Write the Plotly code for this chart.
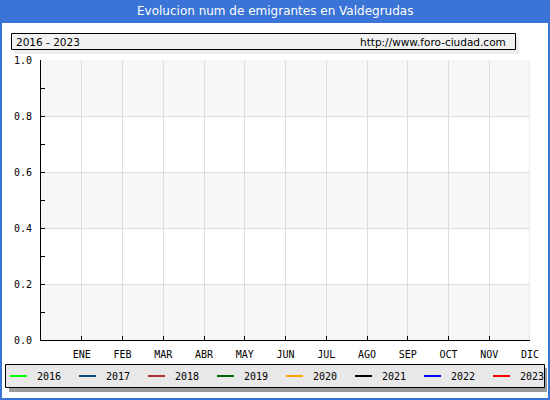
import plotly.graph_objects as go

# Data (no emigrants recorded in any month, every series is empty)
months = ["ENE", "FEB", "MAR", "ABR", "MAY", "JUN", "JUL", "AGO", "SEP", "OCT", "NOV", "DIC"]
years = ["2016", "2017", "2018", "2019", "2020", "2021", "2022", "2023"]
colors = ["#00ff00", "#0b4a78", "#b03030", "#006400", "#ffa500", "#000000", "#0000ff", "#ff0000"]
emigrants = {y: [] for y in years}
y_ticks = [0.0, 0.2, 0.4, 0.6, 0.8, 1.0]

W, H = 550, 400
L, R, T, B = 41, 20, 60, 60
PW, PH = W - L - R, H - T - B
BLUE = "#3a74d6"
MONO = "DejaVu Sans Mono"


def px(x):
    return (x - L) / PW


def py(y):
    return (H - B - y) / PH


fig = go.Figure()

for yr, col in zip(years, colors):
    vals = emigrants[yr]
    fig.add_trace(go.Scatter(x=list(range(1, len(vals) + 1)), y=vals, mode="lines",
                             line=dict(color=col, width=2), name=yr, showlegend=False))

shapes = []
# alternating bands
for i in range(len(y_ticks) - 1):
    if i % 2 == 0:
        shapes.append(dict(type="rect", xref="x", yref="y", x0=0, x1=12,
                           y0=y_ticks[i], y1=y_ticks[i + 1], fillcolor="#f7f7f7",
                           line=dict(width=0), layer="below"))
shapes.append(dict(type="line", xref="x", yref="y", x0=12, x1=12, y0=0, y1=1,
                   line=dict(color="#dddddd", width=1), layer="below"))

# frame and title bar
shapes.append(dict(type="rect", xref="paper", yref="paper", x0=px(0), x1=px(W), y0=py(0), y1=py(22),
                   fillcolor=BLUE, line=dict(width=0)))
shapes.append(dict(type="rect", xref="paper", yref="paper", x0=px(1), x1=px(549), y0=py(22), y1=py(399),
                   fillcolor="rgba(0,0,0,0)", line=dict(color=BLUE, width=2)))

# header box
shapes.append(dict(type="rect", xref="paper", yref="paper", x0=px(15), x1=px(519), y0=py(37), y1=py(54),
                   fillcolor="#ededed", line=dict(width=0)))
shapes.append(dict(type="rect", xref="paper", yref="paper", x0=px(11.5), x1=px(515.5), y0=py(33.5), y1=py(49.5),
                   fillcolor="#f2f2f2", line=dict(color="black", width=1)))

# legend box
shapes.append(dict(type="rect", xref="paper", yref="paper", x0=px(9), x1=px(547), y0=py(368), y1=py(392),
                   fillcolor="#9a9a9a", line=dict(width=0)))
shapes.append(dict(type="rect", xref="paper", yref="paper", x0=px(5.5), x1=px(544.5), y0=py(364.5), y1=py(387.5),
                   fillcolor="#e8e8e8", line=dict(color="black", width=1)))

annotations = [
    dict(text="Evolucion num de emigrantes en Valdegrudas", xref="paper", yref="paper",
         x=px(275), y=py(11), showarrow=False, xanchor="center", yanchor="middle",
         font=dict(family="DejaVu Sans", size=12, color="white")),
    dict(text="2016 - 2023", xref="paper", yref="paper", x=px(14), y=py(41.5), showarrow=False,
         xanchor="left", yanchor="middle", font=dict(family="DejaVu Sans", size=10.5, color="black")),
    dict(text="http://www.foro-ciudad.com", xref="paper", yref="paper", x=px(508), y=py(41.5), showarrow=False,
         xanchor="right", yanchor="middle", font=dict(family="DejaVu Sans", size=10.5, color="black")),
]

for i, (yr, col) in enumerate(zip(years, colors)):
    x0 = 10 + 69 * i
    shapes.append(dict(type="line", xref="paper", yref="paper", x0=px(x0), x1=px(x0 + 17),
                       y0=py(376), y1=py(376), line=dict(color=col, width=2)))
    annotations.append(dict(text=yr, xref="paper", yref="paper", x=px(x0 + 25), y=py(376),
                            showarrow=False, xanchor="left", yanchor="middle",
                            font=dict(family=MONO, size=10, color="black")))

fig.update_layout(
    width=W, height=H,
    margin=dict(l=L, r=R, t=T, b=B),
    paper_bgcolor="white", plot_bgcolor="white",
    showlegend=False,
    shapes=shapes, annotations=annotations,
    xaxis=dict(range=[0, 12], tickvals=list(range(1, 13)), ticktext=months,
               showgrid=True, gridcolor="#dddddd", gridwidth=1,
               showline=True, linecolor="black", linewidth=1,
               ticks="inside", ticklen=4, tickcolor="black",
               tickfont=dict(family=MONO, size=10, color="black"),
               ticklabelstandoff=5,
               zeroline=False, fixedrange=True),
    yaxis=dict(range=[0, 1], tickvals=y_ticks, tickformat=".1f",
               showgrid=True, gridcolor="#dddddd", gridwidth=1,
               showline=True, linecolor="black", linewidth=1,
               ticks="inside", ticklen=4, tickcolor="black",
               minor=dict(dtick=0.1, ticks="inside", ticklen=4, tickcolor="black", showgrid=False),
               tickfont=dict(family=MONO, size=10, color="black"),
               ticklabelstandoff=6,
               zeroline=False, fixedrange=True),
)

fig.write_html("out.html", config={"displayModeBar": False},
               post_script="document.body.style.margin='0';")
